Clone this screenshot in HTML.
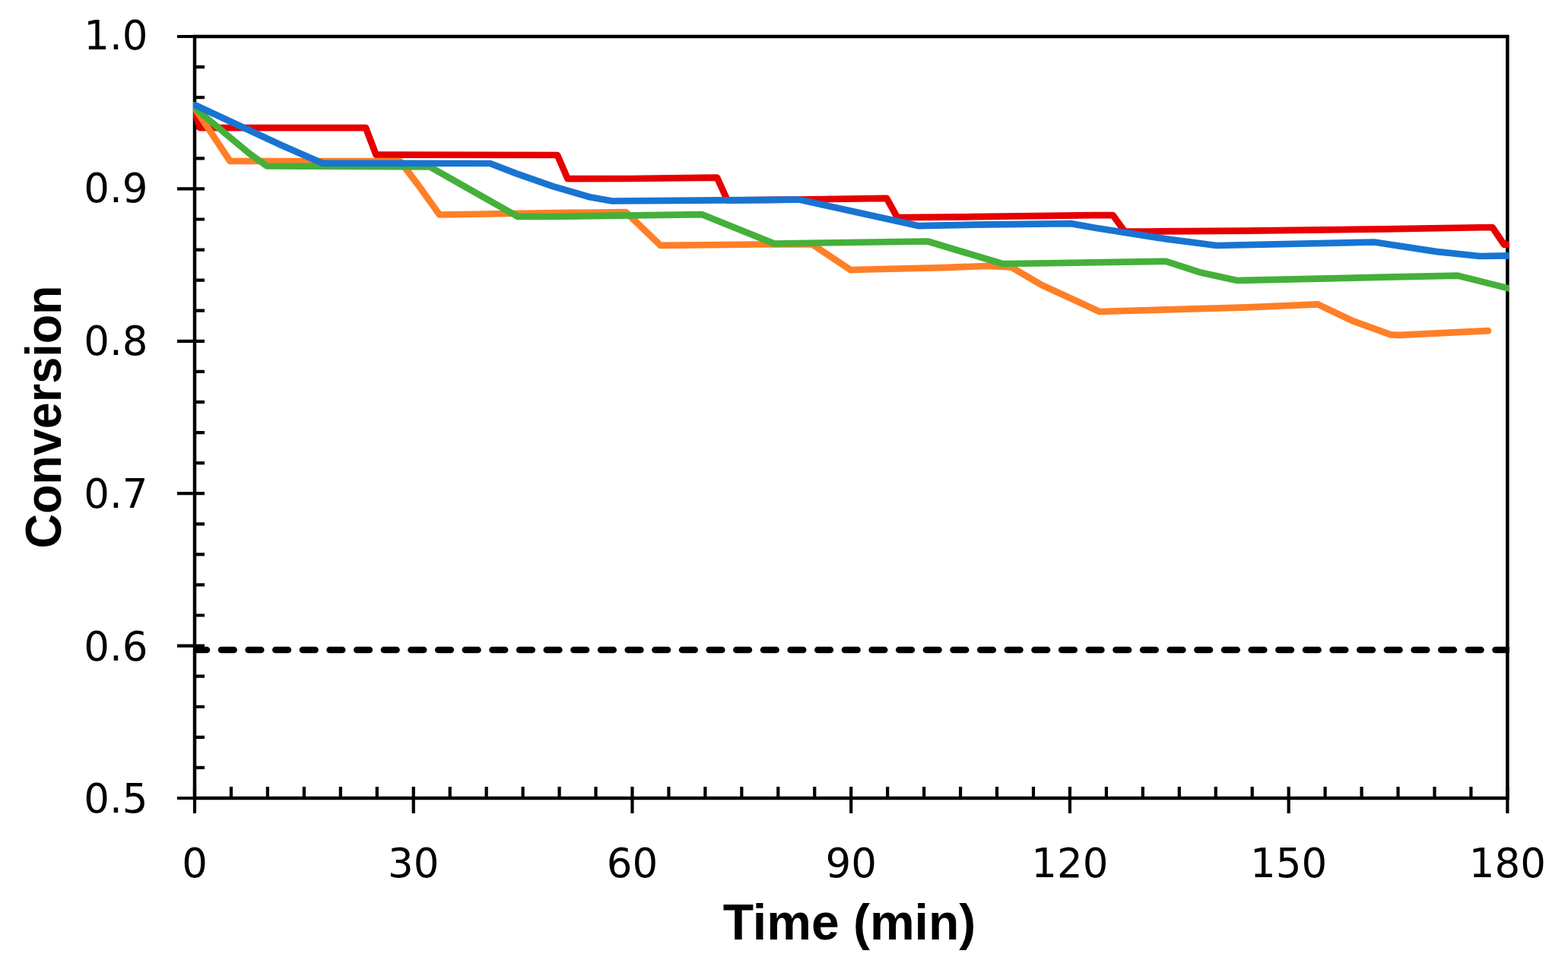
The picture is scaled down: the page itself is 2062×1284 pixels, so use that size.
<!DOCTYPE html>
<html><head><meta charset="utf-8"><title>Conversion vs Time</title>
<style>
html,body{margin:0;padding:0;background:#fff;}
svg{display:block;}
text{font-family:'Liberation Sans', 'DejaVu Sans', sans-serif;fill:#000;}
.tl text{font-family:'DejaVu Sans','Liberation Sans',sans-serif;}
</style></head>
<body>
<svg width="2062" height="1284" viewBox="0 0 2062 1284">
<rect width="2062" height="1284" fill="#fff"/>
<rect x="256.0" y="48.0" width="1726.4" height="1002.0" fill="none" stroke="#000" stroke-width="4.5"/>
<path d="M233.0 48.00H269.0 M256.0 88.08H269.0 M256.0 128.16H269.0 M256.0 168.24H269.0 M256.0 208.32H269.0 M233.0 248.40H269.0 M256.0 288.48H269.0 M256.0 328.56H269.0 M256.0 368.64H269.0 M256.0 408.72H269.0 M233.0 448.80H269.0 M256.0 488.88H269.0 M256.0 528.96H269.0 M256.0 569.04H269.0 M256.0 609.12H269.0 M233.0 649.20H269.0 M256.0 689.28H269.0 M256.0 729.36H269.0 M256.0 769.44H269.0 M256.0 809.52H269.0 M233.0 849.60H269.0 M256.0 889.68H269.0 M256.0 929.76H269.0 M256.0 969.84H269.0 M256.0 1009.92H269.0 M233.0 1050.00H269.0 M256.00 1035.0V1070.0 M303.96 1035.0V1050.0 M351.91 1035.0V1050.0 M399.87 1035.0V1050.0 M447.82 1035.0V1050.0 M495.78 1035.0V1050.0 M543.73 1035.0V1070.0 M591.69 1035.0V1050.0 M639.64 1035.0V1050.0 M687.60 1035.0V1050.0 M735.56 1035.0V1050.0 M783.51 1035.0V1050.0 M831.47 1035.0V1070.0 M879.42 1035.0V1050.0 M927.38 1035.0V1050.0 M975.33 1035.0V1050.0 M1023.29 1035.0V1050.0 M1071.24 1035.0V1050.0 M1119.20 1035.0V1070.0 M1167.16 1035.0V1050.0 M1215.11 1035.0V1050.0 M1263.07 1035.0V1050.0 M1311.02 1035.0V1050.0 M1358.98 1035.0V1050.0 M1406.93 1035.0V1070.0 M1454.89 1035.0V1050.0 M1502.84 1035.0V1050.0 M1550.80 1035.0V1050.0 M1598.76 1035.0V1050.0 M1646.71 1035.0V1050.0 M1694.67 1035.0V1070.0 M1742.62 1035.0V1050.0 M1790.58 1035.0V1050.0 M1838.53 1035.0V1050.0 M1886.49 1035.0V1050.0 M1934.44 1035.0V1050.0 M1982.40 1035.0V1070.0" stroke="#000" stroke-width="4.2" fill="none"/>
<defs><clipPath id="pc"><rect x="254" y="0" width="1730.9" height="1284"/></clipPath></defs>
<g clip-path="url(#pc)" fill="none" stroke-width="8.7" stroke-linejoin="round" stroke-linecap="round">
<polyline points="256.0,146.5 263.0,168.1 481.0,168.1 494.5,203.6 733.0,204.0 746.5,235.2 830.0,235.0 920.0,233.8 943.0,233.6 956.5,263.5 1050.0,262.5 1166.0,260.8 1180.0,286.2 1280.0,285.2 1440.0,283.1 1463.5,283.0 1479.0,304.5 1510.0,304.5 1640.0,303.6 1820.0,301.3 1962.5,299.0 1978.0,321.8 1990.0,321.1" stroke="#E60000"/>
<polyline points="256.0,142.0 302.5,212.0 526.0,212.0 549.7,243.0 578.0,282.5 700.0,280.5 823.0,279.0 868.5,322.8 1000.0,321.5 1068.0,321.3 1118.6,355.1 1138.4,354.5 1240.0,352.2 1300.0,349.8 1330.0,351.5 1370.0,375.0 1446.0,410.0 1460.0,409.5 1640.0,404.4 1733.0,400.4 1778.0,421.8 1829.0,440.4 1840.0,440.8 1957.0,435.2" stroke="#FF7F27"/>
<polyline points="256.0,142.0 328.0,202.0 351.0,218.5 565.0,219.3 681.0,285.0 720.0,285.0 923.4,282.2 1018.0,320.5 1080.0,319.5 1220.0,317.5 1318.4,347.0 1360.0,346.5 1533.5,343.8 1580.0,358.8 1627.0,369.0 1632.0,368.8 1820.0,364.7 1917.0,362.6 1983.0,379.1 1990.0,380.9" stroke="#44B03A"/>
<polyline points="256.0,138.0 370.0,191.0 424.6,214.9 644.5,215.0 678.5,228.1 727.0,245.1 775.5,259.2 805.0,264.5 920.0,263.6 1050.7,262.6 1208.5,297.2 1280.0,295.7 1408.4,294.1 1440.0,299.8 1533.5,314.4 1600.0,323.0 1807.0,318.5 1889.7,331.1 1946.0,337.0 1990.0,336.4" stroke="#1874D2"/>
<path d="M255.4 855H1990" stroke="#000" stroke-dasharray="16.5 19.15"/>
</g>
<g class="tl" font-size="53">
<text x="194.6" y="65.1" text-anchor="end">1.0</text>
<text x="194.6" y="266.0" text-anchor="end">0.9</text>
<text x="194.6" y="466.8" text-anchor="end">0.8</text>
<text x="194.6" y="667.7" text-anchor="end">0.7</text>
<text x="194.6" y="868.5" text-anchor="end">0.6</text>
<text x="194.6" y="1069.4" text-anchor="end">0.5</text>
<text x="256.0" y="1154" text-anchor="middle">0</text>
<text x="543.7" y="1154" text-anchor="middle">30</text>
<text x="831.5" y="1154" text-anchor="middle">60</text>
<text x="1119.2" y="1154" text-anchor="middle">90</text>
<text x="1406.9" y="1154" text-anchor="middle">120</text>
<text x="1694.7" y="1154" text-anchor="middle">150</text>
<text x="1982.4" y="1154" text-anchor="middle">180</text>
</g>
<text x="1117" y="1235.5" text-anchor="middle" font-size="66" font-weight="bold">Time (min)</text>
<text transform="translate(79.5,548.5) rotate(-90)" x="0" y="0" text-anchor="middle" font-size="66" font-weight="bold" textLength="346" lengthAdjust="spacingAndGlyphs">Conversion</text>
</svg>
</body></html>
